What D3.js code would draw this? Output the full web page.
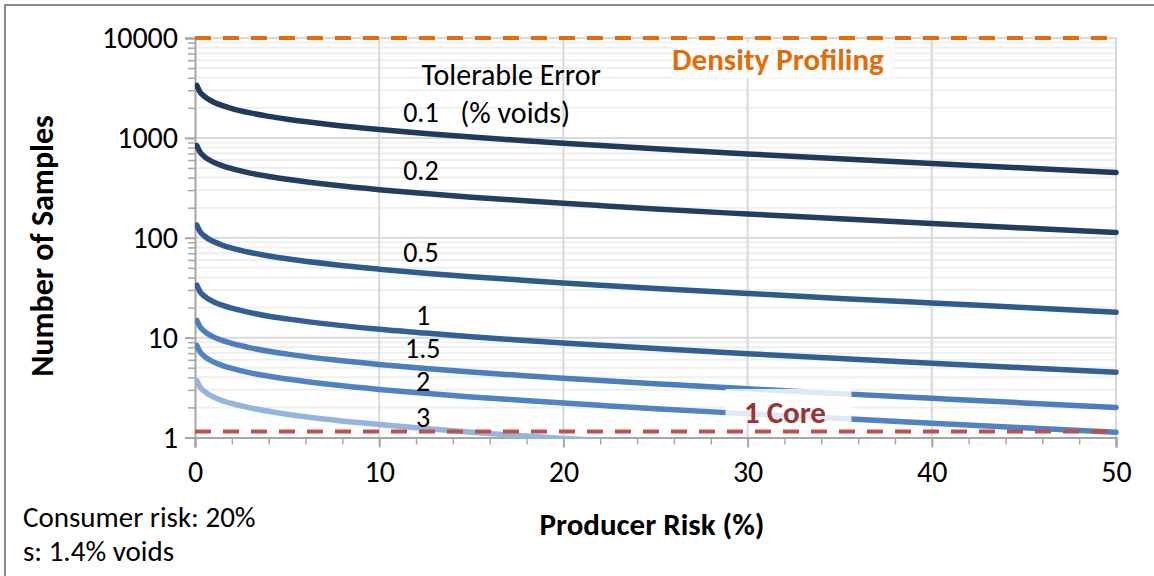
<!DOCTYPE html>
<html>
<head>
<meta charset="utf-8">
<script src="https://cdn.jsdelivr.net/npm/d3@7"></script>
<style>
  html, body { margin: 0; padding: 0; background: #fff; }
  svg { display: block; font-family: Carlito, Lato, "Open Sans", sans-serif; }
</style>
</head>
<body>
<svg id="chart" width="1154" height="576"></svg>
<script>
// Producer risk (%) at which each sample count was evaluated
const producerRisk = [0.1, 0.25, 0.5, 1, 1.5, 2, 3, 4, 5, 7.5, 10, 12.5, 15, 17.5, 20, 22.5, 25, 30, 35, 40, 45, 50];

// Tolerable error levels (% voids) and their required number of samples
const tolerableErrors = ["0.1", "0.2", "0.5", "1", "1.5", "2", "3"];
const samples_0_1 = [3347, 2928, 2609, 2289, 2101, 1967, 1778, 1643, 1538, 1348, 1212, 1106, 1020, 947, 884, 828, 778, 691, 618, 555, 500, 451];
const samples_0_2 = [837, 732, 652, 572, 525, 492, 444, 411, 385, 337, 303, 277, 255, 237, 221, 207, 194, 173, 155, 139, 125, 113];
const samples_0_5 = [133.9, 117.1, 104.4, 91.6, 84.0, 78.7, 71.1, 65.7, 61.5, 53.9, 48.5, 44.2, 40.8, 37.9, 35.3, 33.1, 31.1, 27.7, 24.7, 22.2, 20.0, 18.0];
const samples_1 = [33.5, 29.3, 26.1, 22.9, 21.0, 19.7, 17.8, 16.4, 15.4, 13.5, 12.1, 11.1, 10.2, 9.47, 8.84, 8.28, 7.78, 6.91, 6.18, 5.55, 5.00, 4.51];
const samples_1_5 = [14.87, 13.01, 11.60, 10.17, 9.34, 8.74, 7.90, 7.30, 6.84, 5.99, 5.39, 4.92, 4.53, 4.21, 3.93, 3.68, 3.46, 3.07, 2.75, 2.47, 2.22, 2.00];
const samples_2 = [8.37, 7.32, 6.52, 5.72, 5.25, 4.92, 4.44, 4.11, 3.85, 3.37, 3.03, 2.77, 2.55, 2.37, 2.21, 2.07, 1.94, 1.73, 1.55, 1.39, 1.25, 1.13];
const samples_3 = [3.72, 3.25, 2.90, 2.54, 2.33, 2.19, 1.98, 1.83, 1.71, 1.50, 1.35, 1.23, 1.13, 1.05, 0.98, 0.92, 0.86, 0.77, 0.69, 0.62, 0.56, 0.50];

// Reference levels
const densityProfilingLevel = 10000;
const oneCoreLevel = 1.15;

// Axis ticks
const xTicks = [0, 10, 20, 30, 40, 50];
const xMinorTicks = [0, 2, 4, 6, 8, 10, 12, 14, 16, 18, 20, 22, 24, 26, 28, 30, 32, 34, 36, 38, 40, 42, 44, 46, 48, 50];
const yTicks = [1, 10, 100, 1000, 10000];
const yTickLabels = ["1", "10", "100", "1000", "10000"];

// Series styling
const seriesColors = ["#203a5e", "#223f63", "#2f5a8c", "#335f94", "#4a7ebd", "#4f83c2", "#95b5dc"];

// Label anchors (producer risk %, samples) for the tolerable-error annotations
const labelAnchors = [
  [11.3, 1811], [11.3, 476], [11.3, 71.9], [12.0, 16.8], [11.4, 7.87], [12.0, 3.6], [12.0, 1.6]
];

const seriesValues = [samples_0_1, samples_0_2, samples_0_5, samples_1, samples_1_5, samples_2, samples_3];

const svg = d3.select("#chart");
const plot = { left: 195, right: 1116, top: 38, bottom: 437.5 };

const x = d3.scaleLinear().domain([0, 50]).range([plot.left, plot.right]);
const y = d3.scaleLog().domain([1, 10000]).range([plot.bottom, plot.top]);

// Outer chart frame
svg.append("rect")
  .attr("x", 5).attr("y", 5).attr("width", 1160).attr("height", 600)
  .attr("fill", "#fff").attr("stroke", "#8c8c8c").attr("stroke-width", 2);

svg.append("defs").append("clipPath").attr("id", "plotClip")
  .append("rect")
  .attr("x", plot.left).attr("y", plot.top - 4)
  .attr("width", plot.right - plot.left + 4).attr("height", plot.bottom - plot.top + 5.5);

// Minor horizontal gridlines (2..9 in each decade)
const minorY = [];
for (let d = 1; d < 10000; d *= 10) for (let k = 2; k <= 9; k++) minorY.push(d * k);

const grid = svg.append("g");
grid.selectAll("line.minor").data(minorY).join("line")
  .attr("x1", plot.left).attr("x2", plot.right)
  .attr("y1", d => y(d)).attr("y2", d => y(d))
  .attr("stroke", "#efefef").attr("stroke-width", 2);
grid.selectAll("line.major").data(yTicks.slice(1)).join("line")
  .attr("x1", plot.left).attr("x2", plot.right)
  .attr("y1", d => y(d)).attr("y2", d => y(d))
  .attr("stroke", "#d9d9d9").attr("stroke-width", 2);
grid.selectAll("line.vert").data(xTicks.slice(1)).join("line")
  .attr("x1", d => x(d)).attr("x2", d => x(d))
  .attr("y1", plot.top).attr("y2", plot.bottom)
  .attr("stroke", "#d9d9d9").attr("stroke-width", 2);

// Axes
const axisColor = "#a6a6a6";
const tickFont = 30;
const xAxisG = svg.append("g").attr("transform", `translate(0,${plot.bottom})`);
xAxisG.call(d3.axisBottom(x).tickValues(xMinorTicks).tickSize(7).tickFormat(""));
xAxisG.call(g => g.select(".domain").remove());
xAxisG.selectAll(".tick line").attr("stroke", axisColor).attr("stroke-width", 1.5);
const xMajorG = svg.append("g").attr("transform", `translate(0,${plot.bottom})`);
xMajorG.call(d3.axisBottom(x).tickValues(xTicks).tickSize(10).tickPadding(13).tickFormat(d3.format("d")));
xMajorG.select(".domain").attr("stroke", axisColor).attr("stroke-width", 2);
xMajorG.selectAll(".tick line").attr("stroke", axisColor).attr("stroke-width", 2);
xMajorG.selectAll(".tick text").attr("font-size", tickFont).attr("fill", "#000")
  .attr("font-family", "Carlito, Lato, sans-serif");

const yMinorG = svg.append("g").attr("transform", `translate(${plot.left},0)`);
yMinorG.call(d3.axisLeft(y).tickValues(minorY).tickSize(7).tickFormat(""));
yMinorG.call(g => g.select(".domain").remove());
yMinorG.selectAll(".tick line").attr("stroke", axisColor).attr("stroke-width", 1.5);
const yMajorG = svg.append("g").attr("transform", `translate(${plot.left},0)`);
yMajorG.call(d3.axisLeft(y).tickValues(yTicks).tickSize(10).tickPadding(7)
  .tickFormat((d, i) => yTickLabels[i]));
yMajorG.select(".domain").attr("stroke", axisColor).attr("stroke-width", 2);
yMajorG.selectAll(".tick line").attr("stroke", axisColor).attr("stroke-width", 2);
yMajorG.selectAll(".tick text").attr("font-size", tickFont).attr("fill", "#000")
  .attr("font-family", "Carlito, Lato, sans-serif");

// Sample-size curves
const line = d3.line()
  .x((d, i) => x(producerRisk[i]))
  .y(d => y(d))
  .curve(d3.curveMonotoneX);

svg.append("g").attr("clip-path", "url(#plotClip)")
  .selectAll("path").data(seriesValues).join("path")
  .attr("d", d => line(d))
  .attr("fill", "none")
  .attr("stroke", (d, i) => seriesColors[i])
  .attr("stroke-width", 5.5)
  .attr("stroke-linecap", "round")
  .attr("stroke-linejoin", "round");

// Reference lines
svg.append("line")
  .attr("x1", x(0)).attr("x2", x(50) + 3)
  .attr("y1", y(densityProfilingLevel)).attr("y2", y(densityProfilingLevel))
  .attr("stroke", "#e46c0a").attr("stroke-width", 4).attr("stroke-dasharray", "16 12");
svg.append("line")
  .attr("x1", x(0)).attr("x2", x(50) + 3)
  .attr("y1", y(oneCoreLevel)).attr("y2", y(oneCoreLevel))
  .attr("stroke", "#c0504d").attr("stroke-width", 4).attr("stroke-dasharray", "16 12");

// Reference-line labels on translucent boxes
function boxedLabel(text, bx, by, w, h, tx, ty, color) {
  svg.append("rect")
    .attr("x", bx).attr("y", by - h / 2).attr("width", w).attr("height", h)
    .attr("fill", "#fff").attr("fill-opacity", 0.82);
  svg.append("text")
    .attr("x", tx).attr("y", ty)
    .attr("dominant-baseline", "central")
    .attr("font-size", 31).attr("font-weight", "bold").attr("fill", color)
    .text(text);
}
boxedLabel("Density Profiling", x(25.9), y(6000), 222, 36, x(25.9), y(6200), "#e36c09");
boxedLabel("1 Core", x(28.8), y(2.07), 126, 34, x(29.8), y(1.80), "#953735");

// Tolerable error annotations
svg.append("text").attr("x", x(12.3)).attr("y", y(4300))
  .attr("dominant-baseline", "central").attr("font-size", 30).attr("fill", "#000")
  .text("Tolerable Error");
svg.append("text").attr("x", x(14.4)).attr("y", y(1800))
  .attr("dominant-baseline", "central").attr("font-size", 30).attr("fill", "#000")
  .text("(% voids)");
svg.append("g").selectAll("text").data(tolerableErrors).join("text")
  .attr("x", (d, i) => x(labelAnchors[i][0]))
  .attr("y", (d, i) => y(labelAnchors[i][1]))
  .attr("dominant-baseline", "central").attr("font-size", 28).attr("fill", "#000")
  .text(d => d);

// Axis titles
svg.append("text")
  .attr("x", 652).attr("y", 524)
  .attr("text-anchor", "middle").attr("dominant-baseline", "central")
  .attr("font-size", 31).attr("font-weight", "bold").attr("fill", "#000")
  .text("Producer Risk (%)");
svg.append("text")
  .attr("transform", "translate(42,246) rotate(-90)")
  .attr("text-anchor", "middle").attr("dominant-baseline", "central")
  .attr("font-size", 32).attr("font-weight", "bold").attr("fill", "#000")
  .text("Number of Samples");

// Assumption notes
svg.append("text").attr("x", 23).attr("y", 517)
  .attr("dominant-baseline", "central").attr("font-size", 29).attr("fill", "#000")
  .text("Consumer risk: 20%");
svg.append("text").attr("x", 23).attr("y", 551)
  .attr("dominant-baseline", "central").attr("font-size", 29).attr("fill", "#000")
  .text("s: 1.4% voids");
</script>
</body>
</html>
